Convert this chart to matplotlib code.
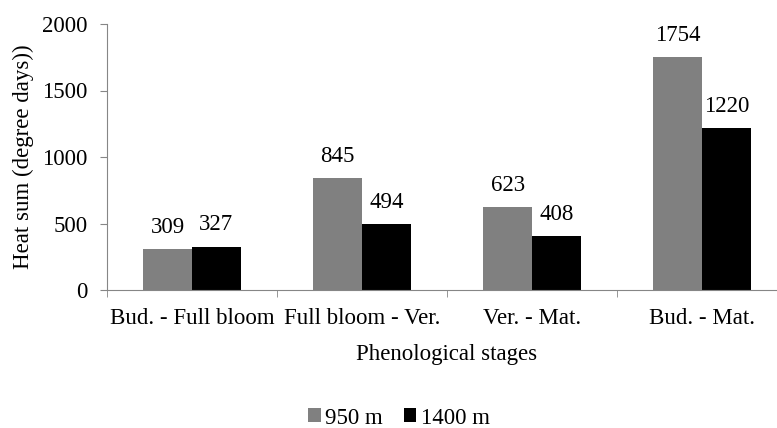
import matplotlib.pyplot as plt
import numpy as np

# heat sum per phenological stage at the two altitudes
stages = ['Bud. - Full bloom', 'Full bloom - Ver.', 'Ver. - Mat.', 'Bud. - Mat.']
heat_950 = [309, 845, 623, 1754]
heat_1400 = [327, 494, 408, 1220]
series_names = ['950 m', '1400 m']

plt.rcParams['font.family'] = ['Liberation Serif', 'DejaVu Serif']
plt.rcParams['font.size'] = 16.5

fig = plt.figure(figsize=(7.77, 4.28), dpi=100)
ax = fig.add_axes([107 / 777, 138 / 428, 680 / 777, 266 / 428])

x = np.arange(len(stages))
w = 1 / 3.5
b1 = ax.bar(x - w / 2, heat_950, w, color='#808080', label=series_names[0])
b2 = ax.bar(x + w / 2, heat_1400, w, color='#000000', label=series_names[1])

# value labels above every bar
for bars, vals in ((b1, heat_950), (b2, heat_1400)):
    for rect, v in zip(bars, vals):
        ax.annotate(str(v), (rect.get_x() + rect.get_width() / 2, v),
                    xytext=(0, 8), textcoords='offset points',
                    ha='center', va='bottom')

ax.set_xlim(-0.5, len(stages) - 0.5)
ax.set_ylim(0, 2000)
ax.set_yticks([0, 500, 1000, 1500, 2000])

ax.set_xticks(x)
ax.set_xticklabels(stages)
ax.set_xticks(np.arange(-0.5, len(stages)), minor=True)
ax.tick_params(axis='x', which='major', length=0, pad=13)
ax.tick_params(axis='x', which='minor', length=5, color='#868686')
ax.tick_params(axis='y', length=5, color='#868686', pad=9)

for side in ('top', 'right'):
    ax.spines[side].set_visible(False)
for side in ('left', 'bottom'):
    ax.spines[side].set_color('#868686')

ax.set_xlabel('Phenological stages', labelpad=11)
ax.set_ylabel('Heat sum (degree days))', labelpad=6)

fig.legend(handles=[b1, b2], loc='center', bbox_to_anchor=(399 / 777, 1 - 418 / 428),
           ncol=2, frameon=False, handlelength=0.55, handleheight=0.55,
           handletextpad=0.2, columnspacing=0.9)

fig.savefig('out.png', dpi=100)
